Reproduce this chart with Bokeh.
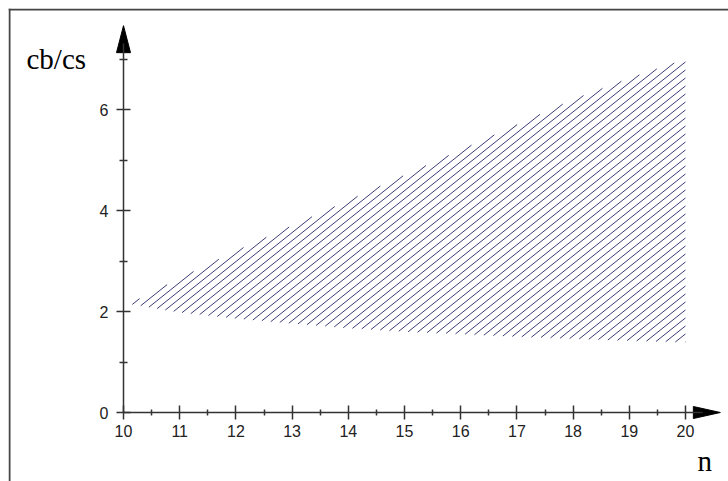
import numpy as np
from bokeh.plotting import figure
from bokeh.models import Range1d, LinearAxis, FixedTicker, Label, Span
from bokeh.embed import file_html
from bokeh.resources import INLINE

# ---- data ----
n_values = [10.1, 11, 12, 13, 14, 15, 16, 17, 18, 19, 20]
upper = [2.15, 2.66, 3.2, 3.7, 4.2, 4.7, 5.2, 5.7, 6.2, 6.62, 7.0]
lower = [2.15, 1.98, 1.86, 1.76, 1.67, 1.60, 1.55, 1.50, 1.46, 1.42, 1.39]

x_ticks = [10, 11, 12, 13, 14, 15, 16, 17, 18, 19, 20]
x_minor = [10.5, 11.5, 12.5, 13.5, 14.5, 15.5, 16.5, 17.5, 18.5, 19.5]
y_ticks = [0, 2, 4, 6]
y_minor = [1, 3, 5, 7]
y_label = "cb/cs"
x_label = "n"

X_AXIS_END = 20.62
Y_AXIS_END = 7.66

W, H = 728, 481
BL, BT = 8, 8
FW, FH = W - BL, H - BT
PX_X = 56.2   # pixels per unit of n
PX_Y = 50.5   # pixels per unit of cb/cs
x0 = 10 - 115 / PX_X
y1 = 404 / PX_Y

p = figure(width=W, height=H, output_backend="svg", toolbar_location=None,
           x_axis_type=None, y_axis_type=None,
           min_border_left=BL, min_border_top=BT, min_border_right=0, min_border_bottom=0,
           x_range=Range1d(x0, x0 + FW / PX_X), y_range=Range1d(y1 - FH / PX_Y, y1))
p.outline_line_color = None
p.background_fill_color = "white"
p.border_fill_color = "white"

# window-style border on the left and top only
p.add_layout(Span(location=x0 + 1 / PX_X, dimension="height", line_color="#444444", line_width=2))
p.add_layout(Span(location=y1 - 1 / PX_Y, dimension="width", line_color="#444444", line_width=2))

# ---- hatching of the region between the lower and upper curves ----
slope = 0.8 * PX_X / PX_Y          # ~39 degree lines on screen
spacing = 10 / PX_X                # 10 px apart horizontally
xs = np.linspace(n_values[0], n_values[-1], 4000)
lo = np.interp(xs, n_values, lower)
hi = np.interp(xs, n_values, upper)
c_lo = n_values[0] - max(upper) / slope
c_hi = n_values[-1] - min(lower) / slope
hx0, hy0, hx1, hy1 = [], [], [], []
for c in np.arange(c_lo, c_hi, spacing):
    yl = slope * (xs - c)
    inside = np.nonzero((yl >= lo) & (yl <= hi))[0]
    if inside.size < 2:
        continue
    a, b = inside[0], inside[-1]
    hx0.append(xs[a]); hy0.append(yl[a]); hx1.append(xs[b]); hy1.append(yl[b])
p.segment(hx0, hy0, hx1, hy1, line_color="#3c3c78", line_width=1)

axis_color = "#333333"
label_font = "Liberation Sans"

xaxis = LinearAxis(fixed_location=0, bounds=(10, 20.3),
                   ticker=FixedTicker(ticks=x_ticks, minor_ticks=x_minor))
xaxis.axis_line_color = axis_color
xaxis.axis_line_width = 1.5
xaxis.major_tick_line_color = axis_color
xaxis.major_tick_line_width = 1.5
xaxis.major_tick_in = 7
xaxis.major_tick_out = 7
xaxis.minor_tick_line_color = axis_color
xaxis.minor_tick_line_width = 1.5
xaxis.minor_tick_in = 3
xaxis.minor_tick_out = 3
xaxis.major_label_text_font = label_font
xaxis.major_label_text_font_size = "16px"
xaxis.major_label_text_color = "#222222"
xaxis.major_label_standoff = 5
p.add_layout(xaxis, "below")

yaxis = LinearAxis(fixed_location=10, bounds=(0, 7.3),
                   ticker=FixedTicker(ticks=y_ticks, minor_ticks=y_minor))
yaxis.axis_line_color = axis_color
yaxis.axis_line_width = 1.5
yaxis.major_tick_line_color = axis_color
yaxis.major_tick_line_width = 1.5
yaxis.major_tick_in = 7
yaxis.major_tick_out = 7
yaxis.minor_tick_line_color = axis_color
yaxis.minor_tick_line_width = 1.5
yaxis.minor_tick_in = 4
yaxis.minor_tick_out = 4
yaxis.major_label_text_font = label_font
yaxis.major_label_text_font_size = "16px"
yaxis.major_label_text_color = "#222222"
yaxis.major_label_standoff = 8
p.add_layout(yaxis, "left")

# arrow heads at the ends of the axes
head_len_x = 27 / PX_X
head_half_x = 6 / PX_Y
p.patch([X_AXIS_END - head_len_x, X_AXIS_END, X_AXIS_END - head_len_x],
        [head_half_x, 0, -head_half_x], color="black", line_width=1)
head_len_y = 27 / PX_Y
head_half_y = 7 / PX_X
p.patch([10 - head_half_y, 10, 10 + head_half_y],
        [Y_AXIS_END - head_len_y, Y_AXIS_END, Y_AXIS_END - head_len_y], color="black", line_width=1)

p.add_layout(Label(x=x0 + 18 / PX_X, y=y1 - 50 / PX_Y, text=y_label,
                   text_font="Liberation Serif", text_font_size="29px",
                   text_color="black", text_baseline="alphabetic"))
p.add_layout(Label(x=x0 + 689 / PX_X, y=y1 - 452 / PX_Y, text=x_label,
                   text_font="Liberation Serif", text_font_size="29px",
                   text_color="black", text_baseline="alphabetic"))

open("out.html", "w").write(file_html(p, INLINE))
